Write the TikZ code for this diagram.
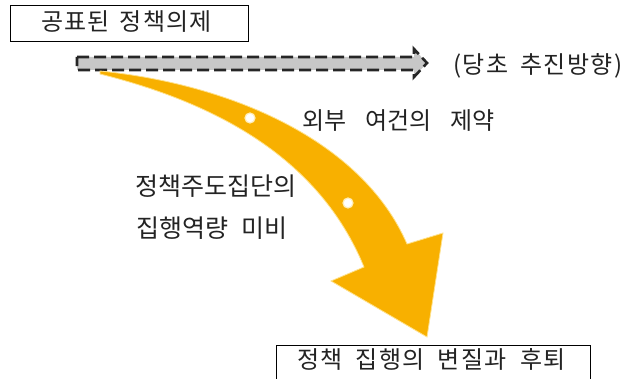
\documentclass[tikz,border=0pt]{standalone}
\usepackage{fontspec}
\setmainfont{Noto Sans CJK KR}
\definecolor{arroworange}{RGB}{248,176,0}
\definecolor{arrowedge}{RGB}{255,226,140}
\definecolor{txt}{RGB}{35,35,35}
\newcommand\krlbl[3]{\fontsize{#1pt}{#1pt}\selectfont\addfontfeatures{LetterSpace=#2}\spaceskip=#3pt\relax}
\begin{document}
\begin{tikzpicture}[x=1pt,y=-1pt,
  lbl/.style={text=txt, inner sep=0pt, anchor=west},
  boxed/.style={draw=black, line width=0.8pt, inner sep=0pt, anchor=north west},
  dashedarrow/.style={draw=black!85, line width=2.6pt, dash pattern=on 12pt off 5pt, fill=black!22, line join=miter},
  bigarrow/.style={fill=arroworange, draw=arrowedge, line width=0.8pt, line join=miter},
  dot/.style={circle, fill=white, draw=arrowedge!60!white, line width=1.2pt, minimum size=10pt, inner sep=0pt}]
\clip (0,0) rectangle (627,379);
\fill[white] (0,0) rectangle (627,379);

% top box
\node[boxed, minimum width=238pt, minimum height=36pt] (top) at (10,5) {};
\node[lbl, font={\krlbl{24}{5}{10}}] (toptext) at (41,21.5) {공표된 정책의제};

% dashed straight arrow
\path[dashedarrow] (77,57) -- (414,57) -- (414,49) -- (427,63) -- (414,77) -- (414,70) -- (77,70) -- cycle;
\node[lbl, font={\krlbl{24}{6}{12}}] (plan) at (453,66) {(당초 추진방향)};

% curved orange arrow
\path[bigarrow] (100,71) .. controls (230,84) and (362,140) .. (407,244)
  -- (443,233) -- (427,337) -- (331,281) -- (364,267)
  .. controls (320,160) and (220,104) .. (100,74) -- cycle;
\node[dot] (d1) at (250,118) {};
\node[dot] (d2) at (348,203) {};

% labels
\node[lbl, font={\krlbl{24}{0}{19}}] (ext) at (302,121) {외부 여건의 제약};
\node[lbl, font={\krlbl{25}{0}{0}}] (lead1) at (135,186) {정책주도집단의};
\node[lbl, font={\krlbl{25}{0}{13}}] (lead2) at (136,228) {집행역량 미비};

% bottom box
\node[boxed, minimum width=314pt, minimum height=44pt] (bot) at (276,345) {};
\node[lbl, font={\krlbl{24}{6}{13}}] (bottext) at (297,359.5) {정책 집행의 변질과 후퇴};
\end{tikzpicture}
\end{document}
